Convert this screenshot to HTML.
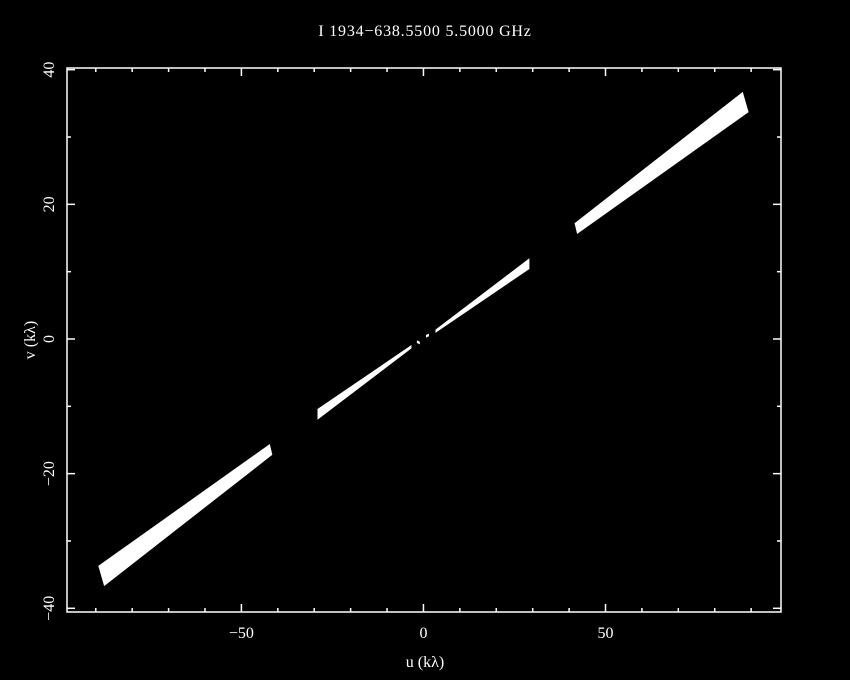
<!DOCTYPE html>
<html><head><meta charset="utf-8"><style>
html,body{margin:0;padding:0;background:#000;}
svg{display:block;}
text{font-family:"Liberation Serif",serif;fill:#fff;}
</style></head><body>
<svg id="chart" width="850" height="680" xmlns="http://www.w3.org/2000/svg">
<rect x="0" y="0" width="850" height="680" fill="#000"/>
<text x="425" y="36" text-anchor="middle" font-size="16" letter-spacing="0.8">I 1934−638.5500 5.5000 GHz</text>
<text x="425" y="667" text-anchor="middle" font-size="16">u (kλ)</text>
<text x="0" y="0" transform="translate(35,340) rotate(-90)" text-anchor="middle" font-size="16">v (kλ)</text>
<g id="marks"></g>
<g id="axes"></g>
</svg>
<script>
const xTicks=[-50,0,50];
const yTicks=[-40,-20,0,20,40];
// uv track polygons: corners in kλ (u, v)
const trackU=[[41.5,42.2,89.3,87.7],[-41.5,-42.2,-89.3,-87.7],[3.3,3.3,29.1,29.1],[-3.3,-3.3,-29.1,-29.1],[0.7,0.7,1.5,1.5],[-1.0,-1.0,-1.8,-1.8]];
const trackV=[[17.2,15.6,33.7,36.7],[-17.2,-15.6,-33.7,-36.7],[1.4,0.9,10.4,12.0],[-1.4,-0.9,-10.4,-12.0],[0.6,0.2,0.4,0.8],[-0.4,-0.8,-0.6,-0.2]];
const X0=67,X1=781,Y0=68,Y1=612;
const uMin=-97.9,uMax=98.2,vMin=-40.55,vMax=40.25;
const sx=u=>X0+(u-uMin)/(uMax-uMin)*(X1-X0);
const sy=v=>Y1-(v-vMin)/(vMax-vMin)*(Y1-Y0);
const NS="http://www.w3.org/2000/svg";
const marks=document.getElementById('marks');
trackU.forEach((us,i)=>{
  const p=document.createElementNS(NS,'polygon');
  p.setAttribute('points',us.map((u,j)=>sx(u)+','+sy(trackV[i][j])).join(' '));
  p.setAttribute('fill','#fff');
  
  
  marks.appendChild(p);
});
const ax=document.getElementById('axes');
function line(x1,y1,x2,y2,name){
  const l=document.createElementNS(NS,'line');
  l.setAttribute('x1',x1);l.setAttribute('y1',y1);l.setAttribute('x2',x2);l.setAttribute('y2',y2);
  l.setAttribute('stroke','#fff');l.setAttribute('stroke-width','1.5');
  
  
  ax.appendChild(l);
}
const fr=document.createElementNS(NS,'rect');
fr.setAttribute('x',X0);fr.setAttribute('y',Y0);fr.setAttribute('width',X1-X0);fr.setAttribute('height',Y1-Y0);
fr.setAttribute('fill','none');fr.setAttribute('stroke','#fff');fr.setAttribute('stroke-width','1.5');


ax.appendChild(fr);
for(let u=-90;u<=90;u+=10){
  const maj=u%50===0, L=maj?8:4, x=sx(u);
  line(x,Y1,x,Y1-L,'x-tick');line(x,Y0,x,Y0+L,'x-tick');
}
for(let v=-40;v<=40;v+=10){
  const maj=v%20===0, L=maj?8:4, y=sy(v);
  line(X0,y,X0+L,y,'y-tick');line(X1,y,X1-L,y,'y-tick');
}
xTicks.forEach(t=>{
  const tx=document.createElementNS(NS,'text');
  tx.setAttribute('x',sx(t));tx.setAttribute('y',Y1+26);
  tx.setAttribute('text-anchor','middle');tx.setAttribute('font-size','16');
  tx.textContent=t<0?'−'+(-t):String(t);
  
  
  ax.appendChild(tx);
});
yTicks.forEach(t=>{
  const tx=document.createElementNS(NS,'text');
  tx.setAttribute('transform','translate('+(X0-13)+','+sy(t)+') rotate(-90)');
  tx.setAttribute('text-anchor','middle');tx.setAttribute('font-size','16');
  tx.textContent=t<0?'−'+(-t):String(t);
  
  
  ax.appendChild(tx);
});
</script>
</body></html>
